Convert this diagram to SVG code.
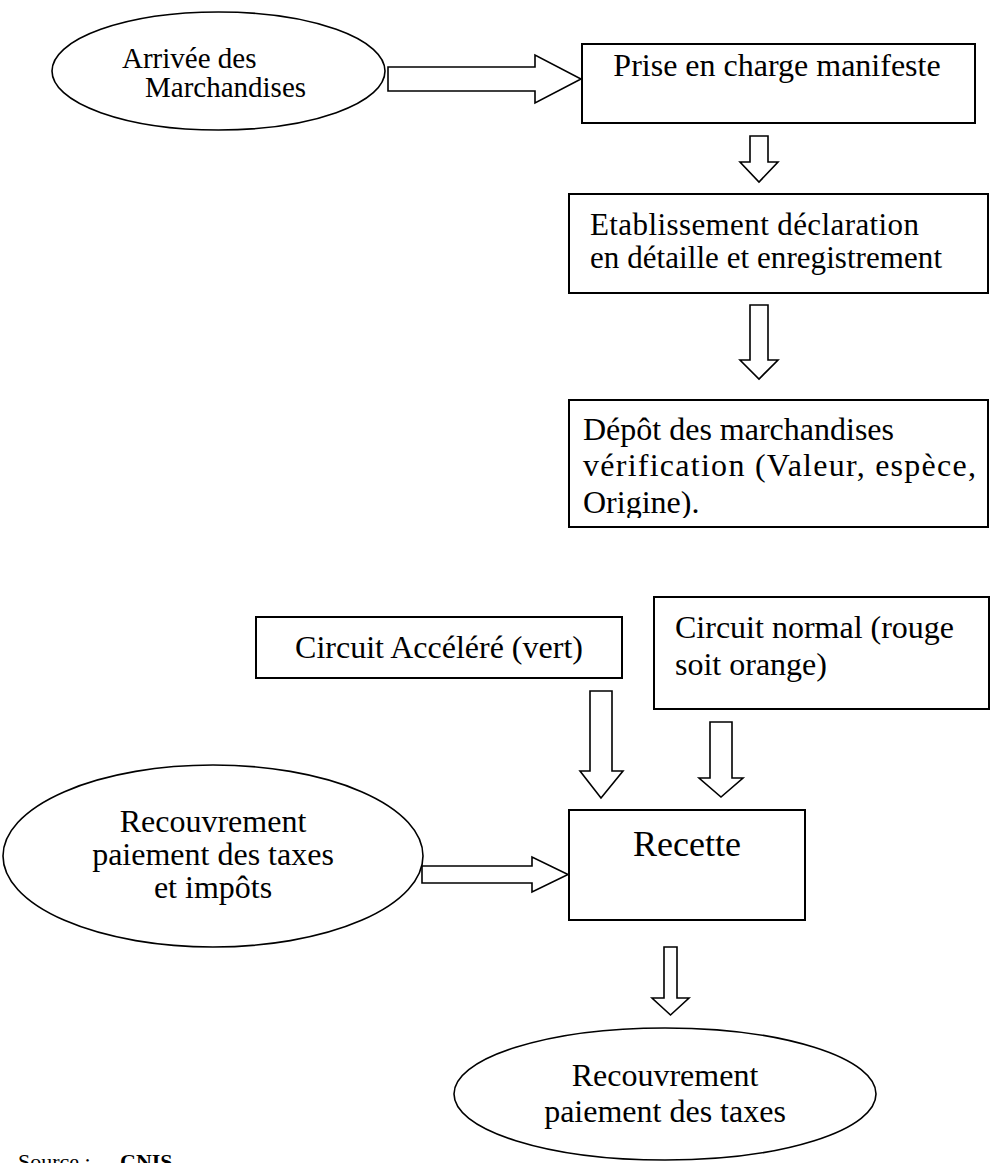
<svg xmlns="http://www.w3.org/2000/svg" width="990" height="1163" viewBox="0 0 990 1163">
  <style>
    .box { fill: #ffffff; stroke: #000000; stroke-width: 2; }
    .oval { fill: #ffffff; stroke: #000000; stroke-width: 1.6; }
    .arrow { fill: #ffffff; stroke: #000000; stroke-width: 1.6; stroke-linejoin: miter; }
    .t { font-family: "Liberation Serif", "Times New Roman", serif; font-size: 32px; fill: #000000; }
    .mid { text-anchor: middle; }
  </style>
  <defs>
    <!-- inner area of the inspection box: the last line is cut off by it -->
    <clipPath id="clip-depot">
      <rect x="570" y="401" width="417" height="117"/>
    </clipPath>
  </defs>

  <rect width="990" height="1163" fill="#ffffff"/>

  <!-- block arrows between the steps -->
  <g id="connectors">
    <path class="arrow" d="M388,67 L535,67 L535,55 L581,79 L535,103 L535,91 L388,91 Z"/>
    <path class="arrow" d="M750,136 L768,136 L768,162 L778,162 L759,182 L740,162 L750,162 Z"/>
    <path class="arrow" d="M750,305 L768,305 L768,360 L778,360 L759,379 L740,360 L750,360 Z"/>
    <path class="arrow" d="M590,691 L612,691 L612,771 L623,771 L601,798 L580,771 L590,771 Z"/>
    <path class="arrow" d="M710,722 L732,722 L732,778 L743,778 L721,797 L699,778 L710,778 Z"/>
    <path class="arrow" d="M422,866 L532,866 L532,857 L568,874.5 L532,892 L532,883 L422,883 Z"/>
    <path class="arrow" d="M664,947 L677,947 L677,998 L689,998 L670.5,1015 L652,998 L664,998 Z"/>
  </g>

  <g id="arrivee">
    <ellipse class="oval" cx="218.5" cy="71" rx="166.5" ry="59"/>
    <text class="t" x="122" y="68" style="font-size:29px">Arrivée des</text>
    <text class="t" x="145" y="97" style="font-size:29px">Marchandises</text>
  </g>

  <g id="prise-en-charge">
    <rect class="box" x="582" y="44" width="393" height="79"/>
    <text class="t mid" x="777" y="76">Prise en charge manifeste</text>
  </g>

  <g id="etablissement">
    <rect class="box" x="569" y="194" width="419" height="99"/>
    <text class="t" x="590" y="235" style="font-size:31px" textLength="329" lengthAdjust="spacing">Etablissement déclaration</text>
    <text class="t" x="590" y="268" style="font-size:31px" textLength="352" lengthAdjust="spacing">en détaille et enregistrement</text>
  </g>

  <g id="depot">
    <rect class="box" x="569" y="400" width="419" height="127"/>
    <g clip-path="url(#clip-depot)">
      <text class="t" x="583" y="440">Dépôt des marchandises</text>
      <text class="t" x="583" y="476" textLength="393" lengthAdjust="spacing">vérification (Valeur, espèce,</text>
      <text class="t" x="583" y="513">Origine).</text>
    </g>
  </g>

  <g id="circuit-accelere">
    <rect class="box" x="256" y="617" width="366" height="61"/>
    <text class="t mid" x="439" y="658">Circuit Accéléré (vert)</text>
  </g>

  <g id="circuit-normal">
    <rect class="box" x="654" y="597" width="335" height="112"/>
    <text class="t" x="675" y="638">Circuit normal (rouge</text>
    <text class="t" x="675" y="675">soit orange)</text>
  </g>

  <g id="recouvrement-taxes-impots">
    <ellipse class="oval" cx="213" cy="856" rx="210" ry="91"/>
    <text class="t mid" x="213" y="832">Recouvrement</text>
    <text class="t mid" x="213" y="865">paiement des taxes</text>
    <text class="t mid" x="213" y="898">et impôts</text>
  </g>

  <g id="recette">
    <rect class="box" x="569" y="810" width="236" height="110"/>
    <text class="t mid" x="687" y="856" style="font-size:36px">Recette</text>
  </g>

  <g id="recouvrement-taxes">
    <ellipse class="oval" cx="665" cy="1094" rx="211" ry="66"/>
    <text class="t mid" x="665" y="1086">Recouvrement</text>
    <text class="t mid" x="665" y="1122">paiement des taxes</text>
  </g>

  <g id="source">
    <text class="t" x="18" y="1169" style="font-size:22px">Source : <tspan x="120" font-weight="bold">CNIS</tspan></text>
  </g>
</svg>
